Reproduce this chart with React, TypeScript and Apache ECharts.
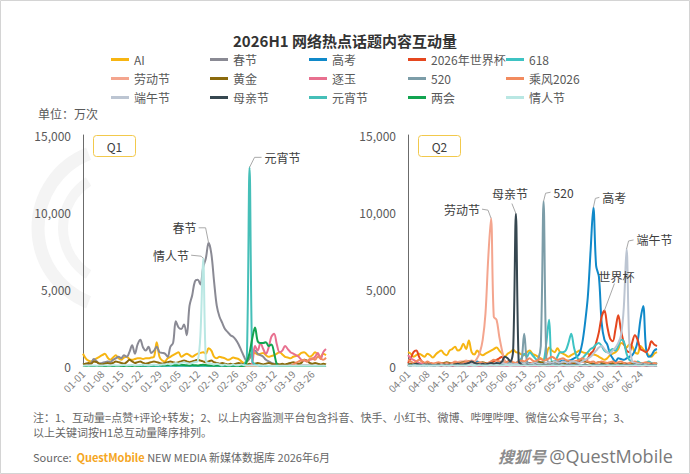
import React, { useEffect, useRef } from 'react';
import * as echarts from 'echarts';

const FONT = '"Noto Sans CJK SC", "Microsoft YaHei", sans-serif';

// ---------- categories ----------
const makeDates = (months: number[][]) => {
  const out: string[] = [];
  months.forEach(([m, n]) => {
    for (let d = 1; d <= n; d++) out.push(String(m).padStart(2, '0') + '-' + String(d).padStart(2, '0'));
  });
  return out;
};
const q1Dates = makeDates([[1, 31], [2, 28], [3, 31]]);
const q2Dates = makeDates([[4, 30], [5, 31], [6, 30]]);

const yTicks = [0, 5000, 10000, 15000];

const seriesNames = ['AI', '春节', '高考', '2026年世界杯', '618', '劳动节', '黄金', '逐玉', '520', '乘风2026', '端午节', '母亲节', '元宵节', '两会', '情人节'];
const seriesColors: Record<string, string> = {
  'AI': '#F7B512',
  '春节': '#8A8A94',
  '高考': '#1089C9',
  '2026年世界杯': '#E5471F',
  '618': '#3EC3C3',
  '劳动节': '#F4A58E',
  '黄金': '#8B6A0C',
  '逐玉': '#E8708F',
  '520': '#7C9DA8',
  '乘风2026': '#F28B5E',
  '端午节': '#BCC5D2',
  '母亲节': '#364750',
  '元宵节': '#45BFB8',
  '两会': '#12A450',
  '情人节': '#B9E7E3',
};

// ---------- Q1 values (万次), 01-01 .. 03-31 ----------
const q1AI = [
  800, 500, 350, 300, 400, 500, 600, 700, 800, 550,
  400, 550, 700, 500, 400, 550, 600, 450, 400, 450,
  500, 500, 450, 500, 500, 550, 600, 1550, 600, 350,
  300, 500, 600, 700, 800, 900, 600, 700, 800, 700,
  600, 700, 800, 850, 900, 800, 1150, 1000, 600, 500,
  600, 550, 500, 400, 450, 550, 500, 450, 300, 200,
  300, 500, 800, 850, 750, 800, 850, 700, 600, 650,
  700, 800, 900, 750, 600, 550, 500, 600, 650, 700,
  850, 900, 750, 600, 700, 900, 750, 600, 800, 700,
];
const q1Spring = [
  100, 150, 100, 200, 450, 300, 150, 200, 250, 300,
  250, 400, 500, 600, 500, 700, 600, 900, 1350, 800,
  1400, 1700, 1200, 1000, 1250, 850, 1000, 1250, 900, 850,
  800, 600, 1250, 1500, 2900, 2500, 2400, 2700, 2000, 3900,
  4600, 5500, 5600, 5300, 6400, 7000, 8000, 7300, 5500, 3900,
  3200, 2800, 2400, 2200, 2000, 1900, 1700, 1400, 1000, 600,
  300, 500, 900, 1000, 800, 700, 600, 400, 300, 200,
  150, 100, 100, 80, 60, 50, 50, 50, 40, 40,
  30, 30, 30, 30, 20, 20, 20, 20, 20, 20,
];
const q1Gold = [
  100, 150, 200, 150, 300, 250, 150, 100, 150, 200,
  150, 200, 300, 250, 200, 150, 250, 400, 300, 200,
  250, 300, 200, 150, 200, 250, 300, 250, 200, 150,
  200, 250, 300, 250, 200, 250, 300, 350, 300, 250,
  300, 350, 400, 350, 300, 250, 300, 350, 250, 200,
  150, 200, 150, 100, 150, 100, 150, 200, 150, 100,
  100, 150, 100, 150, 200, 150, 100, 150, 200, 150,
  100, 150, 100, 150, 100, 150, 200, 250, 200, 150,
  200, 400, 350, 200, 150, 200, 150, 100, 150, 100,
];
const q1Jade = [
  0, 0, 0, 0, 0, 0, 0, 0, 0, 0,
  0, 0, 0, 0, 0, 0, 0, 0, 0, 0,
  0, 0, 0, 0, 0, 0, 0, 0, 0, 0,
  0, 0, 0, 0, 0, 0, 0, 0, 0, 0,
  0, 0, 0, 0, 0, 0, 0, 0, 0, 0,
  0, 0, 0, 0, 0, 0, 0, 0, 0, 0,
  0, 0, 200, 1300, 1000, 1500, 1100, 800, 1200, 1900,
  2100, 1400, 900, 1000, 1300, 1100, 900, 800, 700, 600,
  400, 350, 300, 400, 450, 600, 850, 450, 900, 1100,
];
const q1Wind = [
  0, 0, 0, 0, 0, 0, 0, 0, 0, 0,
  0, 0, 0, 0, 0, 0, 0, 0, 0, 0,
  0, 0, 0, 0, 0, 0, 0, 0, 0, 0,
  0, 0, 0, 0, 0, 0, 0, 0, 0, 0,
  0, 0, 0, 0, 0, 0, 0, 0, 0, 0,
  0, 0, 0, 0, 0, 0, 0, 0, 0, 0,
  0, 0, 0, 0, 0, 0, 0, 0, 0, 0,
  0, 0, 0, 0, 0, 0, 0, 100, 200, 300,
  350, 400, 300, 450, 500, 400, 600, 500, 400, 550,
];
const q1Lantern = [
  0, 0, 0, 0, 0, 0, 0, 0, 0, 0,
  0, 0, 0, 0, 0, 0, 0, 0, 0, 0,
  0, 0, 0, 0, 0, 0, 0, 0, 0, 0,
  0, 0, 0, 0, 0, 0, 0, 0, 0, 0,
  0, 0, 0, 0, 0, 0, 0, 0, 0, 0,
  0, 0, 0, 0, 0, 0, 0, 0, 0, 100,
  500, 12900, 300, 100, 50, 0, 0, 0, 0, 0,
  0, 0, 0, 0, 0, 0, 0, 0, 0, 0,
  0, 0, 0, 0, 0, 0, 0, 0, 0, 0,
];
const q1TwoSessions = [
  0, 0, 0, 0, 0, 0, 0, 0, 0, 0,
  0, 0, 0, 0, 0, 0, 0, 0, 0, 0,
  0, 20, 40, 30, 50, 40, 30, 50, 60, 40,
  50, 60, 80, 60, 50, 70, 80, 60, 50, 40,
  60, 50, 40, 60, 80, 60, 40, 30, 20, 30,
  20, 30, 20, 10, 20, 10, 20, 10, 0, 0,
  300, 850, 1800, 2500, 1600, 1500, 1500, 1550, 1300, 1400,
  850, 100, 0, 0, 0, 0, 0, 0, 0, 0,
  0, 0, 0, 0, 0, 0, 0, 0, 0, 0,
];
const q1Valentine = [
  20, 30, 20, 40, 30, 20, 40, 30, 50, 40,
  30, 50, 40, 30, 50, 60, 40, 50, 60, 40,
  50, 60, 80, 60, 50, 70, 80, 60, 80, 90,
  100, 150, 100, 150, 200, 150, 200, 250, 200, 150,
  200, 250, 300, 2000, 7000, 300, 200, 150, 100, 150,
  100, 50, 100, 50, 50, 100, 50, 50, 100, 50,
  40, 30, 40, 30, 20, 30, 20, 30, 20, 10,
  20, 10, 20, 10, 20, 10, 20, 10, 20, 10,
  20, 10, 20, 10, 20, 10, 20, 10, 20, 10,
];

// ---------- Q2 values (万次), 04-01 .. 06-30 ----------
const q2AI = [
  900, 800, 600, 700, 800, 700, 600, 800, 700, 550,
  750, 900, 1000, 800, 700, 1000, 1100, 1250, 1000, 1100,
  1450, 1100, 1650, 900, 750, 1000, 800, 700, 800, 900,
  1000, 1100, 1200, 1000, 800, 600, 800, 900, 1050, 900,
  850, 750, 700, 900, 1000, 800, 700, 600, 500, 400,
  700, 1200, 1000, 900, 1150, 900, 800, 700, 600, 700,
  800, 900, 1000, 900, 850, 800, 700, 750, 700, 600,
  500, 400, 500, 700, 800, 900, 1100, 1500, 1400, 1200,
  1400, 1300, 900, 800, 1300, 1100, 900, 700, 600, 800, 900,
];
const q2Gaokao = [
  100, 150, 100, 100, 150, 100, 100, 100, 150, 100,
  100, 100, 150, 100, 100, 100, 150, 200, 150, 100,
  100, 150, 200, 150, 200, 300, 200, 150, 100, 150,
  100, 100, 150, 200, 150, 100, 100, 150, 200, 150,
  100, 150, 200, 150, 100, 100, 150, 200, 150, 100,
  150, 200, 150, 200, 300, 300, 350, 300, 350, 400,
  500, 600, 800, 1500, 2800, 4500, 7500, 10300, 6500, 5800,
  2800, 1700, 1400, 800, 500, 300, 500, 450, 400, 500,
  600, 700, 1000, 1600, 3000, 3900, 1200, 600, 700, 1000, 1100,
];
const q2WorldCup = [
  200, 500, 900, 1000, 600, 300, 200, 150, 200, 150,
  100, 150, 200, 150, 100, 150, 100, 150, 200, 150,
  100, 150, 200, 150, 100, 150, 200, 150, 100, 150,
  200, 300, 400, 500, 600, 300, 200, 150, 100, 150,
  200, 150, 100, 150, 200, 150, 100, 150, 200, 150,
  100, 150, 200, 300, 250, 200, 150, 200, 250, 200,
  200, 250, 300, 300, 300, 500, 800, 1000, 1500, 2200,
  3200, 3600, 2600, 1800, 1600, 2400, 3300, 2300, 1500, 1000,
  900, 1500, 2000, 1700, 1100, 1000, 900, 1100, 1600, 1400, 1300,
];
const q2Six18 = [
  50, 50, 100, 50, 50, 100, 50, 50, 100, 50,
  50, 100, 50, 50, 100, 50, 50, 100, 50, 50,
  100, 50, 50, 100, 50, 50, 100, 50, 50, 100,
  50, 100, 150, 100, 200, 300, 200, 150, 100, 200,
  300, 500, 800, 600, 900, 700, 500, 300, 200, 300,
  1500, 3000, 300, 300, 600, 900, 900, 1000, 1500, 2100,
  1200, 600, 400, 500, 700, 900, 1100, 1200, 1400, 1500,
  1300, 1000, 900, 1000, 1100, 1000, 1300, 1700, 1600, 800,
  400, 300, 200, 300, 200, 150, 200, 300, 200, 150, 200,
];
const q2Labor = [
  50, 100, 50, 100, 50, 100, 50, 100, 50, 100,
  100, 150, 100, 150, 200, 150, 200, 300, 250, 300,
  300, 350, 300, 350, 300, 500, 900, 1700, 3400, 7000,
  9600, 3200, 3000, 1900, 1000, 300, 150, 100, 100, 50,
  50, 50, 0, 50, 0, 50, 0, 0, 50, 0,
  0, 50, 0, 0, 50, 0, 0, 50, 0, 0,
  0, 0, 50, 0, 0, 0, 50, 0, 0, 0,
  0, 50, 0, 0, 0, 0, 50, 0, 0, 0,
  0, 0, 50, 0, 0, 0, 0, 50, 0, 0, 0,
];
const q2Gold = [
  100, 150, 100, 200, 150, 100, 150, 200, 150, 100,
  150, 100, 150, 200, 250, 200, 150, 100, 150, 200,
  250, 200, 300, 250, 200, 150, 200, 250, 200, 150,
  200, 150, 100, 150, 200, 150, 100, 150, 200, 150,
  100, 150, 200, 150, 100, 150, 200, 300, 250, 200,
  150, 200, 250, 200, 150, 100, 150, 200, 300, 250,
  200, 300, 400, 350, 300, 250, 200, 150, 200, 250,
  200, 150, 100, 150, 200, 150, 100, 150, 200, 150,
  100, 150, 200, 150, 100, 150, 100, 150, 100, 150, 100,
];
const q2Jade = [
  700, 500, 400, 300, 200, 150, 100, 100, 50, 50,
  50, 50, 0, 50, 0, 50, 0, 0, 50, 0,
  0, 50, 0, 0, 50, 0, 0, 0, 50, 0,
  0, 0, 50, 0, 0, 0, 0, 50, 0, 0,
  0, 0, 0, 50, 0, 0, 0, 0, 0, 50,
  0, 0, 0, 0, 0, 50, 0, 0, 0, 0,
  0, 50, 0, 0, 0, 0, 0, 50, 0, 0,
  0, 0, 0, 50, 0, 0, 0, 0, 0, 50,
  0, 0, 0, 0, 0, 50, 0, 0, 0, 0, 0,
];
const q2Five20 = [
  100, 50, 100, 50, 100, 50, 50, 100, 50, 50,
  100, 50, 50, 100, 50, 50, 100, 50, 50, 100,
  50, 100, 150, 100, 50, 100, 150, 100, 50, 100,
  150, 100, 50, 100, 150, 100, 150, 200, 150, 100,
  150, 300, 2100, 300, 150, 100, 200, 400, 1300, 10700,
  500, 200, 100, 150, 100, 50, 100, 50, 50, 100,
  50, 100, 50, 50, 100, 50, 50, 100, 50, 50,
  100, 50, 50, 100, 50, 50, 100, 50, 50, 100,
  50, 50, 100, 50, 50, 100, 50, 50, 100, 50, 50,
];
const q2Wind = [
  400, 300, 200, 300, 400, 300, 200, 300, 200, 150,
  200, 250, 200, 150, 200, 150, 200, 250, 200, 150,
  200, 250, 300, 200, 150, 200, 250, 200, 150, 200,
  300, 400, 350, 300, 250, 200, 300, 350, 250, 200,
  300, 350, 300, 400, 500, 350, 300, 400, 450, 350,
  400, 500, 600, 500, 400, 450, 500, 400, 350, 300,
  300, 350, 400, 500, 400, 300, 250, 300, 200, 250,
  300, 250, 200, 250, 300, 200, 250, 300, 200, 150,
  200, 250, 300, 200, 150, 200, 250, 200, 150, 200, 150,
];
const q2Dragon = [
  100, 50, 100, 50, 100, 50, 100, 50, 100, 50,
  100, 50, 100, 50, 100, 50, 100, 50, 100, 50,
  100, 150, 100, 150, 100, 150, 100, 150, 100, 150,
  100, 150, 100, 150, 200, 150, 100, 150, 100, 150,
  100, 150, 200, 150, 100, 150, 200, 150, 100, 150,
  200, 250, 200, 300, 250, 200, 300, 250, 200, 300,
  300, 250, 200, 300, 400, 500, 600, 800, 1000, 1200,
  1300, 1100, 900, 800, 1000, 1200, 1500, 2000, 3800, 7600,
  1500, 300, 200, 150, 100, 150, 100, 100, 50, 50, 50,
];
const q2Mother = [
  100, 50, 100, 150, 100, 50, 100, 50, 100, 50,
  50, 100, 50, 100, 50, 100, 50, 100, 150, 100,
  100, 150, 200, 300, 200, 150, 100, 150, 100, 150,
  200, 150, 200, 150, 300, 600, 500, 300, 1000, 9900,
  300, 100, 50, 100, 50, 50, 100, 50, 50, 100,
  50, 50, 100, 50, 50, 100, 50, 50, 100, 50,
  50, 100, 50, 50, 100, 50, 50, 100, 50, 50,
  100, 50, 50, 100, 50, 50, 100, 50, 50, 100,
  50, 50, 100, 50, 50, 100, 50, 50, 100, 50, 50,
];
const q2Valentine = [
  40, 30, 50, 40, 30, 40, 50, 30, 40, 30,
  40, 30, 50, 40, 30, 40, 50, 30, 40, 30,
  40, 30, 50, 40, 30, 40, 50, 30, 40, 30,
  40, 30, 50, 40, 30, 40, 50, 30, 40, 30,
  40, 30, 50, 40, 30, 40, 50, 30, 40, 30,
  40, 30, 50, 40, 30, 40, 50, 30, 40, 30,
  40, 30, 50, 40, 30, 40, 50, 30, 40, 30,
  40, 30, 50, 40, 30, 40, 50, 30, 40, 30,
  40, 30, 50, 40, 30, 40, 50, 30, 40, 30, 40,
];

const q1Data: Record<string, number[]> = {
  'AI': q1AI, '春节': q1Spring, '黄金': q1Gold, '逐玉': q1Jade, '乘风2026': q1Wind,
  '元宵节': q1Lantern, '两会': q1TwoSessions, '情人节': q1Valentine,
};
const q2Data: Record<string, number[]> = {
  'AI': q2AI, '高考': q2Gaokao, '2026年世界杯': q2WorldCup, '618': q2Six18, '劳动节': q2Labor,
  '黄金': q2Gold, '逐玉': q2Jade, '520': q2Five20, '乘风2026': q2Wind, '端午节': q2Dragon,
  '母亲节': q2Mother, '情人节': q2Valentine,
};

const legendColumns = [
  ['AI', '劳动节', '端午节'],
  ['春节', '黄金', '母亲节'],
  ['高考', '逐玉', '元宵节'],
  ['2026年世界杯', '520', '两会'],
  ['618', '乘风2026', '情人节'],
];
const legendLefts = [106, 205, 304, 403, 501];

// peak call-outs: text, series, quarter, leader-line offsets, text offset
const annotations = [
  { text: '元宵节', series: '元宵节', q: 0, line: [[0, 0], [5, -10], [12, -10]], tx: 15, ty: -10, align: 'left' },
  { text: '春节', series: '春节', q: 0, line: [[0, 0], [-3, -15], [-10, -15]], tx: -12, ty: -15, align: 'right' },
  { text: '情人节', series: '情人节', q: 0, line: [[0, 0], [-2, -2], [-12, -3]], tx: -14, ty: -3, align: 'right' },
  { text: '劳动节', series: '劳动节', q: 1, line: [[0, 0], [-3, -8], [-9, -9]], tx: -11, ty: -9, align: 'right' },
  { text: '母亲节', series: '母亲节', q: 1, line: [[0, 0], [-4, -10]], tx: -6, ty: -20, align: 'center' },
  { text: '520', series: '520', q: 1, line: [[0, 0], [2, -8], [7, -9]], tx: 10, ty: -9, align: 'left' },
  { text: '高考', series: '高考', q: 1, line: [[0, 0], [2, -9], [6, -10]], tx: 9, ty: -10, align: 'left' },
  { text: '端午节', series: '端午节', q: 1, line: [[0, 0], [2, -8], [7, -9]], tx: 10, ty: -9, align: 'left' },
  { text: '世界杯', series: '2026年世界杯', q: 1, line: [[0, 0], [10, -27]], tx: 12, ty: -34, align: 'center' },
];

const grids = [
  { left: 83, top: 135, width: 243, height: 231 },
  { left: 408, top: 135, width: 249, height: 231 },
];

export default function App() {
  const ref = useRef<HTMLDivElement>(null);

  useEffect(() => {
    if (!ref.current) return;
    const chart = echarts.init(ref.current, null, { renderer: 'svg' });

    const mkX = (dates: string[], gi: number) => ({
      type: 'category',
      gridIndex: gi,
      data: dates,
      boundaryGap: false,
      axisLine: { show: true, lineStyle: { color: '#d9d9d9' } },
      axisTick: { show: false },
      axisLabel: { interval: 6, rotate: 45, fontSize: 10, color: '#7f7f7f', margin: 6, fontFamily: FONT },
    });
    const mkY = (gi: number) => ({
      type: 'value',
      gridIndex: gi,
      min: yTicks[0],
      max: yTicks[yTicks.length - 1],
      interval: yTicks[1] - yTicks[0],
      axisLine: { show: true, lineStyle: { color: '#6b6b6b', width: 1 } },
      axisTick: { show: false },
      splitLine: { show: false },
      axisLabel: {
        fontSize: 12, color: '#595959', margin: 12, fontFamily: FONT,
        formatter: (v: number) => v.toLocaleString('en-US'),
      },
    });

    const series: any[] = [];
    [q1Data, q2Data].forEach((qd, qi) => {
      seriesNames.forEach((name) => {
        if (!qd[name]) return;
        series.push({
          type: 'line',
          name,
          xAxisIndex: qi,
          yAxisIndex: qi,
          data: qd[name],
          showSymbol: false,
          smooth: 0.35,
          lineStyle: { width: 2, color: seriesColors[name] },
          itemStyle: { color: seriesColors[name] },
          emphasis: { disabled: true },
        });
      });
    });

    const legends = legendColumns.map((col, i) => ({
      orient: 'vertical',
      left: legendLefts[i],
      top: 45,
      itemGap: 0,
      itemWidth: 18,
      itemHeight: 3,
      icon: 'rect',
      data: col,
      textStyle: { fontSize: 12, color: '#595959', lineHeight: 19, fontFamily: FONT },
    }));

    const staticGraphics: any[] = [
      { type: 'rect', shape: { x: 0.5, y: 0.5, width: 689, height: 473 }, style: { fill: 'none', stroke: '#d4d4d4', lineWidth: 1 }, silent: true },
      { type: 'arc', shape: { cx: 118, cy: 228, r: 80, startAngle: Math.PI * 0.62, endAngle: Math.PI * 1.38 }, style: { stroke: '#f4f4f4', lineWidth: 13, fill: 'none' }, silent: true, z: -5 },
      { type: 'arc', shape: { cx: 118, cy: 228, r: 55, startAngle: Math.PI * 0.68, endAngle: Math.PI * 1.32 }, style: { stroke: '#f5f5f5', lineWidth: 10, fill: 'none' }, silent: true, z: -5 },
      { type: 'text', x: 38, y: 113, style: { text: '单位：万次', fontSize: 12, fontFamily: FONT, fill: '#595959', verticalAlign: 'middle' } },
    ];
    ['Q1', 'Q2'].forEach((q, i) => {
      const g = grids[i];
      staticGraphics.push({ type: 'rect', shape: { x: g.left + 10.5, y: g.top + 0.5, width: 42, height: 21, r: 3 }, style: { fill: '#fff', stroke: '#F2C94C', lineWidth: 1 }, z: 5 });
      staticGraphics.push({ type: 'text', x: g.left + 31.5, y: g.top + 11, style: { text: q, fontSize: 12, fontFamily: FONT, fill: '#404040', align: 'center', verticalAlign: 'middle' }, z: 6 });
    });
    staticGraphics.push(
      { type: 'text', x: 33, y: 417, style: { text: '注：1、互动量=点赞+评论+转发；2、以上内容监测平台包含抖音、快手、小红书、微博、哔哩哔哩、微信公众号平台；3、', fontSize: 11, fontFamily: FONT, fill: '#666', verticalAlign: 'middle' } },
      { type: 'text', x: 33, y: 432, style: { text: '以上关键词按H1总互动量降序排列。', fontSize: 11, fontFamily: FONT, fill: '#666', verticalAlign: 'middle' } },
      {
        type: 'text', x: 33, y: 457,
        style: {
          text: '{a|Source:  }{b|QuestMobile}{a| NEW MEDIA 新媒体数据库 2026年6月}',
          verticalAlign: 'middle',
          rich: {
            a: { fontSize: 11, fontFamily: FONT, fill: '#666', color: '#666' },
            b: { fontSize: 11, fontFamily: FONT, fill: '#F5A623', color: '#F5A623', fontWeight: 'bold' },
          },
        },
      },
      {
        type: 'text', x: 498, y: 456,
        style: {
          text: '{a|搜狐号} {b|@QuestMobile}',
          verticalAlign: 'middle',
          rich: {
            a: { fontSize: 16, fontFamily: FONT, fill: '#8c8c8c', color: '#8c8c8c', fontStyle: 'italic', fontWeight: 'bold' },
            b: { fontSize: 18, fontFamily: '"Open Sans", sans-serif', fill: '#7a7a7a', color: '#7a7a7a' },
          },
        },
      },
    );

    const option: any = {
      animation: false,
      backgroundColor: '#ffffff',
      title: {
        text: '2026H1 网络热点话题内容互动量',
        left: 'center',
        top: 28,
        textStyle: { fontSize: 15, fontWeight: 'bold', color: '#333', fontFamily: FONT },
      },
      legend: legends,
      grid: grids.map((g) => ({ ...g, containLabel: false })),
      xAxis: [mkX(q1Dates, 0), mkX(q2Dates, 1)],
      yAxis: [mkY(0), mkY(1)],
      series,
      graphic: staticGraphics,
    };
    chart.setOption(option);

    const annGraphics: any[] = [];
    annotations.forEach((a) => {
      const data = (a.q === 0 ? q1Data : q2Data)[a.series];
      if (!data) return;
      let idx = 0;
      data.forEach((v, i) => { if (v > data[idx]) idx = i; });
      const p = chart.convertToPixel({ xAxisIndex: a.q, yAxisIndex: a.q } as any, [idx, data[idx]]) as number[];
      if (!p) return;
      annGraphics.push({
        type: 'polyline',
        shape: { points: a.line.map(([dx, dy]) => [p[0] + dx, p[1] + dy]) },
        style: { stroke: '#a9a9a9', lineWidth: 1, fill: null },
        z: 20,
        silent: true,
      });
      annGraphics.push({
        type: 'text',
        x: p[0] + a.tx,
        y: p[1] + a.ty,
        style: { text: a.text, fontSize: 12, fontFamily: FONT, fill: '#404040', align: a.align, verticalAlign: 'middle' },
        z: 20,
      });
    });
    chart.setOption({ graphic: [...staticGraphics, ...annGraphics] });

    return () => chart.dispose();
  }, []);

  return <div ref={ref} style={{ position: 'absolute', left: 0, top: 0, width: 690, height: 474 }} />;
}
